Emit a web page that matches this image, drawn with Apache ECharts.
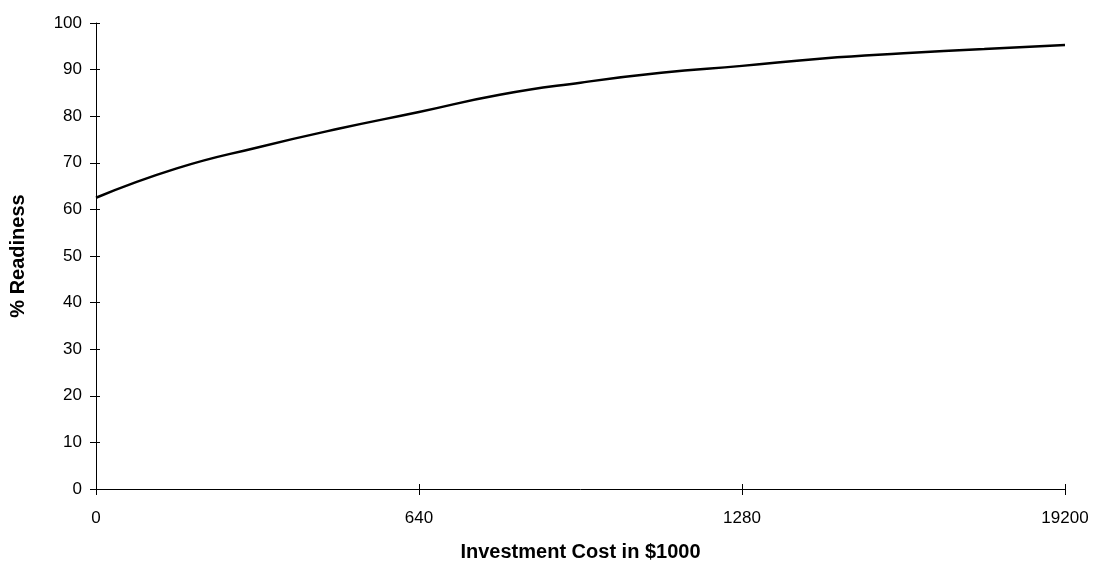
<!DOCTYPE html>
<html>
<head>
<meta charset="utf-8">
<script src="https://cdn.jsdelivr.net/npm/echarts@6/dist/echarts.min.js"></script>
<style>
html,body{margin:0;padding:0;background:#fff;}
#chart{width:1096px;height:567px;}
</style>
</head>
<body>
<div id="chart"></div>
<script>
// Investment cost (in $1000) sample positions and % readiness
const investmentCost = [0, 160, 320, 480, 640, 800, 960, 1120, 1280, 1440, 1600, 1760, 1920];
const readiness = [62.5, 68.8, 73.3, 77.3, 80.9, 84.6, 87.2, 89.3, 90.8, 92.4, 93.5, 94.4, 95.3];
// x tick positions and their printed labels
const xTicks = [0, 640, 1280, 1920];
const xTickLabels = ['0', '640', '1280', '19200'];
const yTicks = [0, 10, 20, 30, 40, 50, 60, 70, 80, 90, 100];

const chart = echarts.init(document.getElementById('chart'));
const font = 'Liberation Sans, Arial, sans-serif';
const xBase = {
  type: 'value',
  min: xTicks[0],
  max: xTicks[xTicks.length - 1],
  interval: xTicks[1] - xTicks[0],
  position: 'bottom',
  splitLine: { show: false }
};
const yBase = {
  type: 'value',
  min: yTicks[0],
  max: yTicks[yTicks.length - 1],
  interval: yTicks[1] - yTicks[0],
  position: 'left',
  splitLine: { show: false }
};
chart.setOption({
  animation: false,
  backgroundColor: '#fff',
  grid: { left: 96, right: 31, top: 23, bottom: 77, containLabel: false },
  xAxis: [
    Object.assign({}, xBase, {
      name: 'Investment Cost in $1000',
      nameLocation: 'middle',
      nameGap: 53,
      nameTextStyle: { fontFamily: font, fontSize: 20, fontWeight: 'bold', color: '#000' },
      axisLine: { show: true, onZero: false, lineStyle: { color: '#000', width: 1 } },
      axisTick: { show: true, length: 6, lineStyle: { color: '#000' } },
      axisLabel: {
        fontFamily: font, fontSize: 17, color: '#000', margin: 21,
        formatter: function (v) {
          const i = xTicks.indexOf(v);
          return i >= 0 ? xTickLabels[i] : '';
        }
      }
    }),
    Object.assign({}, xBase, {
      axisLine: { show: false, onZero: false },
      axisTick: { show: true, inside: true, length: 5, lineStyle: { color: '#000' } },
      axisLabel: { show: false }
    })
  ],
  yAxis: [
    Object.assign({}, yBase, {
      name: '% Readiness',
      nameLocation: 'middle',
      nameGap: 68,
      nameTextStyle: { fontFamily: font, fontSize: 20, fontWeight: 'bold', color: '#000' },
      axisLine: { show: true, onZero: false, lineStyle: { color: '#000', width: 1 } },
      axisTick: { show: true, length: 6, lineStyle: { color: '#000' } },
      axisLabel: { fontFamily: font, fontSize: 17, color: '#000', margin: 14 }
    }),
    Object.assign({}, yBase, {
      axisLine: { show: false, onZero: false },
      axisTick: { show: true, inside: true, length: 4, lineStyle: { color: '#000' } },
      axisLabel: { show: false }
    })
  ],
  series: [{
    type: 'line',
    xAxisIndex: 0,
    yAxisIndex: 0,
    data: investmentCost.map((x, i) => [x, readiness[i]]),
    smooth: true,
    showSymbol: false,
    lineStyle: { color: '#000', width: 2.5 }
  }]
});
</script>
</body>
</html>
